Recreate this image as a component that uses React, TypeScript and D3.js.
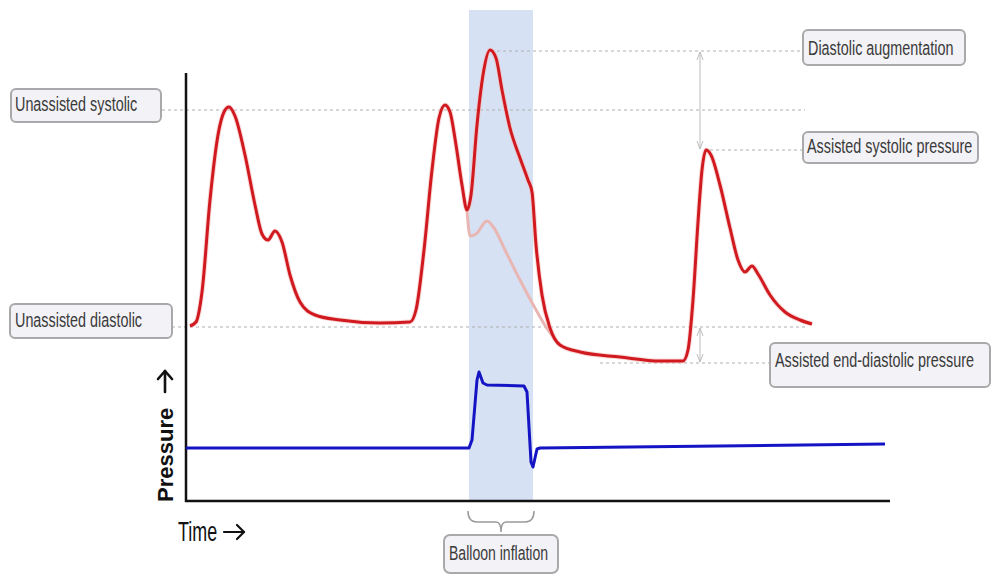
import React from "react";
import * as d3 from "d3";

// Arterial pressure (red), time in s, pressure in arbitrary units
const redTime = [0.02, 0.05, 0.08, 0.12, 0.16, 0.19, 0.215, 0.245, 0.295, 0.345, 0.38, 0.41, 0.445, 0.48, 0.52, 0.57, 0.645, 0.77, 0.97, 1.12,
  1.15, 1.19, 1.23, 1.265, 1.295, 1.32, 1.35, 1.38, 1.405,
  1.425, 1.455, 1.485, 1.52, 1.55, 1.58, 1.62, 1.67, 1.71, 1.73, 1.75, 1.78, 1.82, 1.87, 1.97, 2.17, 2.37, 2.485,
  2.51, 2.535, 2.56, 2.58, 2.6, 2.625, 2.67, 2.72, 2.76, 2.795, 2.83, 2.86, 2.92, 2.995, 3.07, 3.13];
const redPressure = [87.5, 89.5, 104.5, 150.5, 183, 194.5, 197, 192.5, 173, 148, 133.5, 130.5, 135, 129.5, 113, 99.5, 93, 90.5, 89, 89.5,
  95.5, 125.5, 165.5, 191.5, 198, 194.5, 178, 158, 145.5,
  153, 188, 213, 225.5, 221.5, 205.5, 186.5, 171.5, 160.5, 154.5, 128, 103, 86.5, 78, 74.5, 72, 70, 70,
  75.5, 100.5, 139.5, 165.5, 175.5, 173, 158, 136.5, 120.5, 114.5, 117.5, 113.5, 103, 94.5, 90.5, 88.5];

// Unassisted continuation (pink)
const pinkTime = [1.405, 1.42, 1.45, 1.505, 1.54, 1.595, 1.67, 1.745, 1.81, 1.85];
const pinkPressure = [145.5, 132.5, 133.5, 140, 136.5, 125.5, 110.5, 96.5, 85.5, 80.5];

// Balloon pressure (blue)
const blueTime = [0, 1.415, 1.43, 1.455, 1.465, 1.485, 1.505, 1.69, 1.705, 1.725, 1.735, 1.755, 1.77, 3.495];
const bluePressure = [26.5, 26.5, 30.5, 60.5, 64.5, 59, 58, 57.5, 54.5, 19.5, 17, 26, 26.5, 28.5];

// Balloon inflation window
const inflationStart = 1.415;
const inflationEnd = 1.735;

// Reference levels
const refNames = ["Diastolic augmentation", "Unassisted systolic", "Assisted systolic pressure", "Unassisted diastolic", "Assisted end-diastolic pressure"];
const refLevels = [225, 195.5, 175.5, 87, 69];
const refFrom = [1.555, -0.12, 2.62, -0.07, 2.07];
const refTo = [3.085, 3.095, 3.085, 3.095, 2.92];
const arrowTime = 2.57;

const xDomain = [0, 3.52];
const yDomain = [0, 214];

export default function App() {
  const W = 1000, H = 575;
  const x = d3.scaleLinear().domain(xDomain).range([186, 890]);
  const y = d3.scaleLinear().domain(yDomain).range([501, 73]);

  const redLine = d3.line<number>().x((_, i) => x(redTime[i])).y((_, i) => y(redPressure[i])).curve(d3.curveMonotoneX);
  const pinkLine = d3.line<number>().x((_, i) => x(pinkTime[i])).y((_, i) => y(pinkPressure[i])).curve(d3.curveMonotoneX);
  const blueLine = d3.line<number>().x((_, i) => x(blueTime[i])).y((_, i) => y(bluePressure[i])).curve(d3.curveLinear);

  const font = "'Liberation Sans', Arial, sans-serif";
  const sx = 0.685;
  const boxFill = "#f3f2f6";
  const boxStroke = "#a9a9ab";
  const dotted = "#b0b0b0";

  const shadeX0 = x(inflationStart), shadeX1 = x(inflationEnd);
  const mid = (shadeX0 + shadeX1) / 2;
  const ax = x(arrowTime);

  const labels = [
    { text: refNames[1], x: 11, y: y(refLevels[1]) - 21, w: 150, h: 33, b: 22, pad: 4 },
    { text: refNames[3], x: 10, y: y(refLevels[3]) - 23, w: 162, h: 34, b: 23, pad: 5 },
    { text: refNames[0], x: 803, y: y(refLevels[0]) - 21, w: 162, h: 35, b: 25, pad: 5 },
    { text: refNames[2], x: 803, y: y(refLevels[2]) - 18, w: 175, h: 31, b: 21, pad: 4 },
    { text: refNames[4], x: 770, y: y(refLevels[4]) - 20, w: 220, h: 44, b: 24, pad: 5 },
  ];

  const bx = mid - 57;

  return (
    <svg width={W} height={H} style={{ position: "absolute", left: 0, top: 0, background: "#fff" }}>
      <rect x={0} y={0} width={W} height={H} fill="#fff" />
      {/* balloon inflation shade */}
      <rect x={shadeX0} y={10} width={shadeX1 - shadeX0} height={y(0) - 10} fill="#d6e1f3" />

      {/* reference dotted lines */}
      {refLevels.map((lv, i) => (
        <line key={i} x1={x(refFrom[i])} x2={x(refTo[i])} y1={y(lv)} y2={y(lv)}
          stroke={dotted} strokeWidth={1.2} strokeDasharray="3,3" />
      ))}

      {/* double arrows */}
      {[[refLevels[0], refLevels[2]], [refLevels[3], refLevels[4]]].map(([a, b], i) => {
        const y1 = y(a) + 1, y2 = y(b) - 1;
        return (
          <g key={i} stroke="#bdbdbd" strokeWidth={1} fill="none">
            <line x1={ax} x2={ax} y1={y1} y2={y2} />
            <path d={`M${ax - 3},${y1 + 8} L${ax},${y1} L${ax + 3},${y1 + 8}`} />
            <path d={`M${ax - 3},${y2 - 8} L${ax},${y2} L${ax + 3},${y2 - 8}`} />
          </g>
        );
      })}

      {/* axes */}
      <line x1={x(0)} x2={x(0)} y1={y(yDomain[1])} y2={y(0) + 1} stroke="#111" strokeWidth={2.5} />
      <line x1={x(0) - 1} x2={x(xDomain[1])} y1={y(0)} y2={y(0)} stroke="#111" strokeWidth={2.5} />

      {/* curves */}
      <path d={pinkLine(pinkTime) || ""} fill="none" stroke="#e8b6b3" strokeWidth={3} strokeLinejoin="round" />
      <path d={redLine(redTime) || ""} fill="none" stroke="#f4c0c0" strokeWidth={5} strokeLinejoin="round" opacity={0.6} />
      <path d={redLine(redTime) || ""} fill="none" stroke="#d11a1f" strokeWidth={3} strokeLinejoin="round" />
      <path d={blueLine(blueTime) || ""} fill="none" stroke="#1414c4" strokeWidth={3} strokeLinejoin="round" />

      {/* bracket */}
      <path d={`M${shadeX0 - 1},${y(0) + 10} Q${shadeX0 - 1},${y(0) + 21} ${shadeX0 + 8},${y(0) + 21} L${mid - 5},${y(0) + 21} Q${mid},${y(0) + 21} ${mid},${y(0) + 31} Q${mid},${y(0) + 21} ${mid + 5},${y(0) + 21} L${shadeX1 - 8},${y(0) + 21} Q${shadeX1 + 1},${y(0) + 21} ${shadeX1 + 1},${y(0) + 10}`}
        fill="none" stroke="#9a9a9a" strokeWidth={1.5} />

      {/* labels */}
      {labels.map((l, i) => (
        <g key={i}>
          <rect x={l.x} y={l.y} width={l.w} height={l.h} rx={5} fill={boxFill} stroke={boxStroke} strokeWidth={2} />
          <text transform={`translate(${l.x + l.pad},${l.y + l.b}) scale(${sx},1)`} fontFamily={font} fontSize={21} fill="#3a3a3a">{l.text}</text>
        </g>
      ))}
      <g>
        <rect x={bx} y={535} width={114} height={38} rx={6} fill={boxFill} stroke={boxStroke} strokeWidth={2} />
        <text transform={`translate(${bx + 5},560) scale(${sx},1)`} fontFamily={font} fontSize={20.5} fill="#3a3a3a">Balloon inflation</text>
      </g>

      {/* axis titles */}
      <text transform={`translate(173, 502) rotate(-90)`} fontFamily={font} fontWeight="bold" fontSize={22} fill="#111">Pressure</text>
      <g stroke="#111" strokeWidth={2.6} fill="none" strokeLinecap="round" strokeLinejoin="round">
        <line x1={165} x2={165} y1={392} y2={371} />
        <path d="M158,379 L165,371 L172,379" />
      </g>
      <text transform={`translate(178,541) scale(0.64,1)`} fontFamily={font} fontSize={28} fill="#111">Time</text>
      <g stroke="#111" strokeWidth={2.2} fill="none" strokeLinecap="round" strokeLinejoin="round">
        <line x1={224} x2={244} y1={532} y2={532} />
        <path d="M237,525 L244,532 L237,539" />
      </g>
    </svg>
  );
}
